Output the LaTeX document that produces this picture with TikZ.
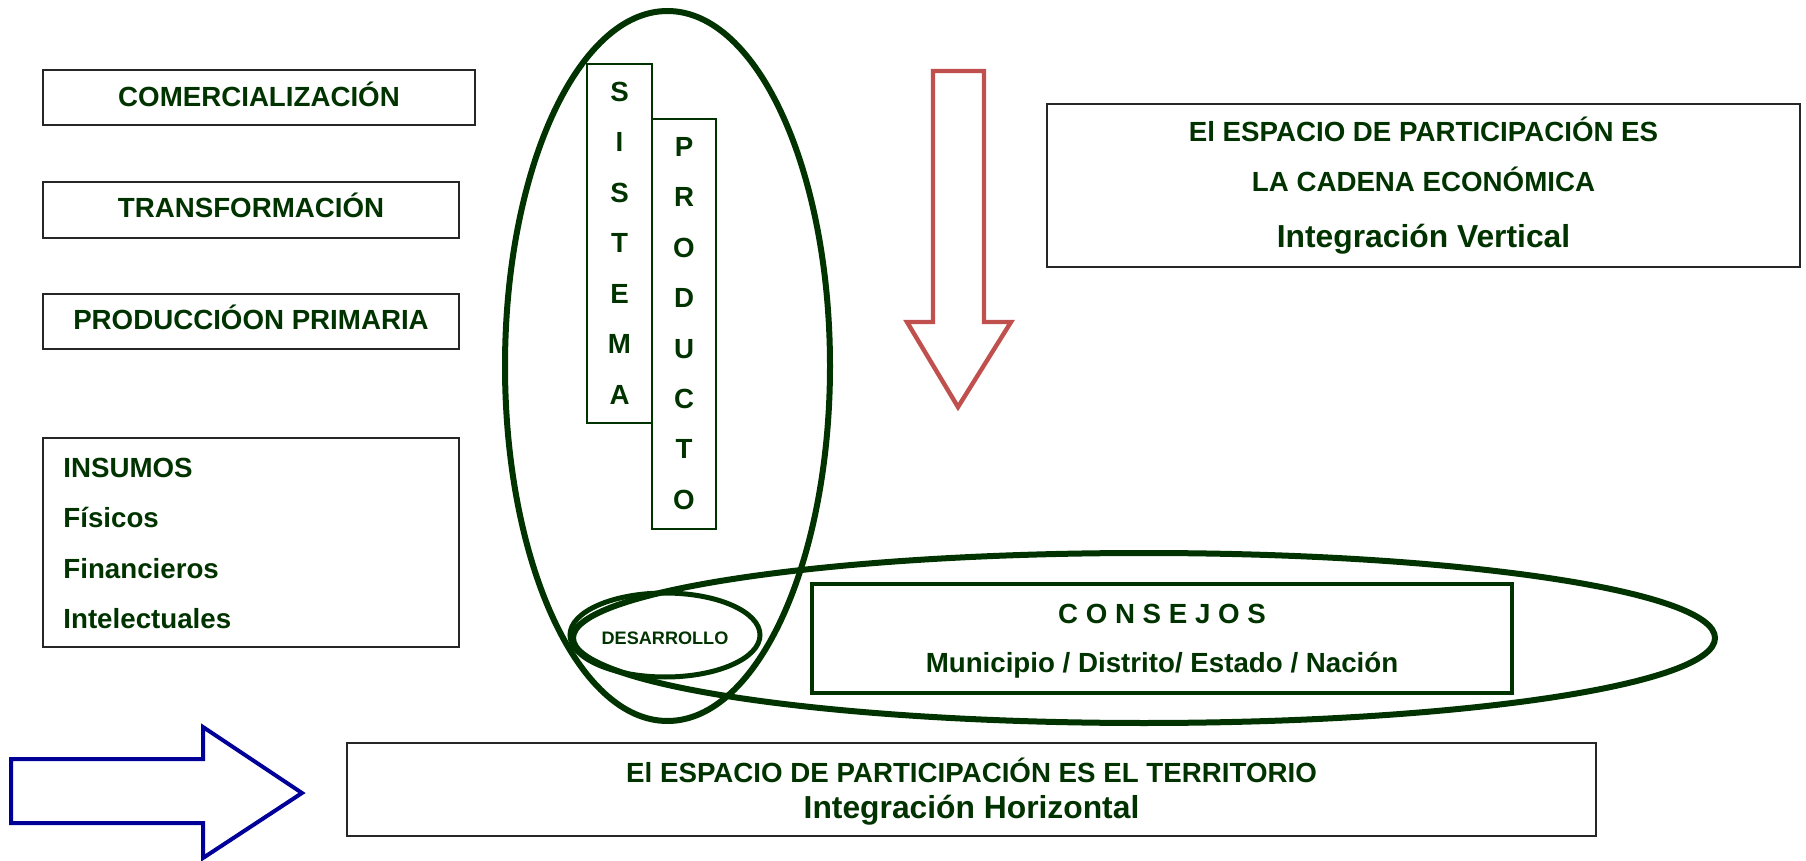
\documentclass[tikz,border=0pt]{standalone}
\usepackage{fontspec}
\setmainfont{Liberation Sans}
\usetikzlibrary{shapes.geometric}
\definecolor{dg}{RGB}{0,51,0}
\definecolor{ared}{RGB}{192,80,77}
\definecolor{ablue}{RGB}{0,0,153}
\begin{document}
\begin{tikzpicture}[x=0.5pt,y=-0.5pt,
  txt/.style={text=dg,font=\fontsize{13.85}{16}\selectfont\bfseries,inner sep=0pt,anchor=base},
  bigtxt/.style={text=dg,font=\fontsize{15.9}{18}\selectfont\bfseries,inner sep=0pt,anchor=base},
  smalltxt/.style={text=dg,font=\fontsize{9.05}{11}\selectfont\bfseries,inner sep=0pt,anchor=base},
  graybox/.style={draw=black!85,line width=1pt,inner sep=0pt,outer sep=0pt},
  thinbox/.style={draw=dg,line width=0.8pt,inner sep=0pt,outer sep=0pt},
  thickbox/.style={draw=dg,line width=2pt,inner sep=0pt,outer sep=0pt},
  ring/.style={ellipse,draw=dg,line width=3pt,inner sep=0pt,outer sep=0pt},
  redarrow/.style={draw=ared,line width=2.2pt,line join=miter},
  bluearrow/.style={draw=ablue,line width=2pt,line join=miter}
]
\useasboundingbox (0,0) rectangle (1806,861);

% left boxes
\node[graybox,minimum width=216pt,minimum height=27.5pt] (com) at (259,97.5) {};
\node[graybox,minimum width=208pt,minimum height=28pt] (tra) at (251,210) {};
\node[graybox,minimum width=208pt,minimum height=27.5pt] (pro) at (251,321.5) {};
\node[graybox,minimum width=208pt,minimum height=104.5pt] (ins) at (251,542.5) {};
\node[txt] (comt) at (259,107) {COMERCIALIZACIÓN};
\node[txt] (trat) at (251,218) {TRANSFORMACIÓN};
\node[txt] (prot) at (251,330) {PRODUCCIÓON PRIMARIA};
\node[txt,anchor=base west] (ins1) at (63,477) {INSUMOS};
\node[txt,anchor=base west] (ins2) at (63,527) {Físicos};
\node[txt,anchor=base west] (ins3) at (63,578) {Financieros};
\node[txt,anchor=base west] (ins4) at (63,628) {Intelectuales};

% sistema producto
\node[thinbox,minimum width=32.5pt,minimum height=179.5pt] (sis) at (619.5,243.5) {};
\node[thinbox,minimum width=32pt,minimum height=205pt] (prd) at (684,324) {};
\foreach \l [count=\i] in {S,I,S,T,E,M,A}
  \node[txt] (sl\i) at (619.5,{101.5+50.5*(\i-1)}) {\l};
\foreach \l [count=\i] in {P,R,O,D,U,C,T,O}
  \node[txt] (pl\i) at (684,{156.5+50.4*(\i-1)}) {\l};

% ellipses
\node[ring,minimum width=162.5pt,minimum height=355pt] (vring) at (667.5,366) {};
\node[ring,minimum width=571pt,minimum height=85pt] (hring) at (1144,638) {};
\node[ring,line width=2.5pt,minimum width=95pt,minimum height=42pt] (des) at (665,635) {};
\node[smalltxt] (dest) at (665,644) {DESARROLLO};

% consejos
\node[thickbox,minimum width=350pt,minimum height=54.5pt] (cons) at (1162,638.5) {};
\node[txt] (cons1) at (1162,623) {C O N S E J O S};
\node[txt] (cons2) at (1162,672) {Municipio / Distrito/ Estado / Nación};

% vertical box
\node[graybox,minimum width=376.5pt,minimum height=81.5pt] (vbox) at (1423.5,185.5) {};
\node[txt] (v1) at (1423.5,142) {El ESPACIO DE PARTICIPACIÓN ES};
\node[txt] (v2) at (1423.5,192) {LA CADENA ECONÓMICA};
\node[bigtxt] (v3) at (1423.5,248) {Integración Vertical};

% territory box
\node[graybox,minimum width=624.5pt,minimum height=46.5pt] (terr) at (971.5,789.5) {};
\node[txt] (t1) at (971.5,782) {El ESPACIO DE PARTICIPACIÓN ES EL TERRITORIO};
\node[bigtxt] (t2) at (971.5,818) {Integración Horizontal};

% arrows
\draw[redarrow] (933,71) -- (984,71) -- (984,322) -- (1011,322) -- (958,407) -- (907,322) -- (933,322) -- cycle;
\draw[bluearrow] (11,759) -- (203,759) -- (203,727) -- (302,793) -- (203,858) -- (203,823) -- (11,823) -- cycle;
\end{tikzpicture}
\end{document}
